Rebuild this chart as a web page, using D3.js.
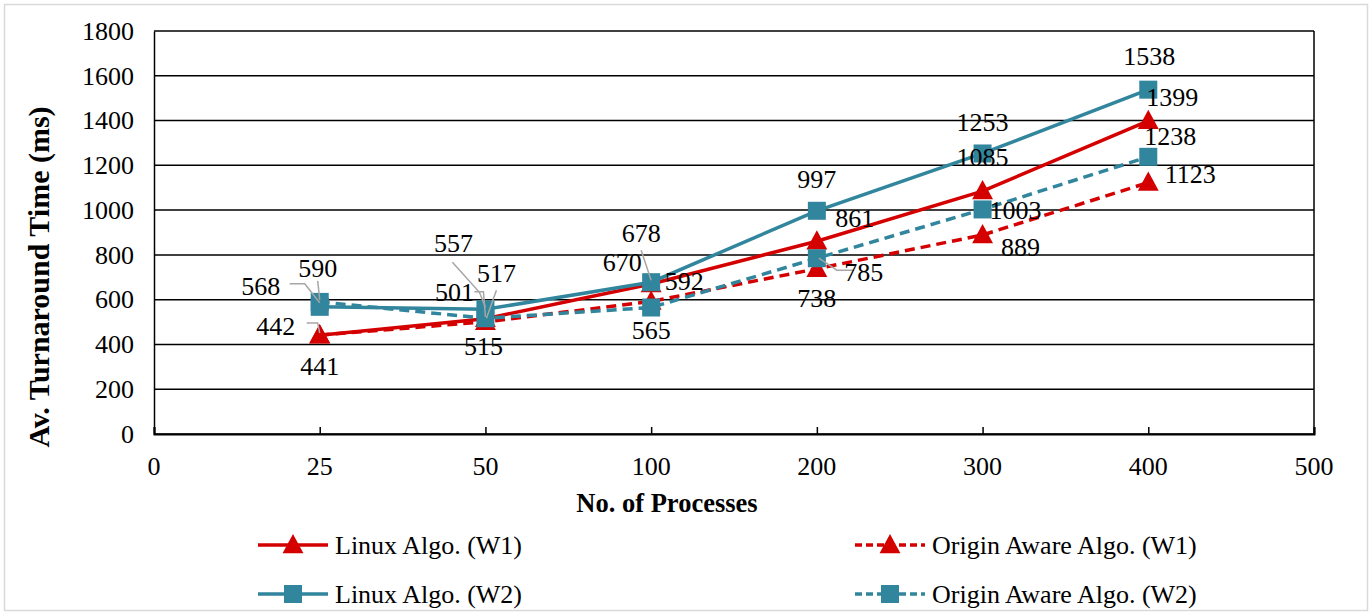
<!DOCTYPE html>
<html><head><meta charset="utf-8">
<script src="https://cdn.jsdelivr.net/npm/d3@7"></script>
<style>
html,body{margin:0;padding:0;background:#fff;}
svg{display:block;}
svg text{font-family:"Liberation Serif","Times New Roman",serif !important;}
</style></head>
<body><svg id="chart" width="1371" height="615"></svg>
<script>
// ---- data ----
const categories = ["0","25","50","100","200","300","400","500"];
const pointCategories = ["25","50","100","200","300","400"];
const yTicks = [0,200,400,600,800,1000,1200,1400,1600,1800];
const seriesNames = ["Linux Algo. (W1)","Origin Aware Algo. (W1)","Linux Algo. (W2)","Origin Aware Algo. (W2)"];
const linuxW1  = [441, 515, 670, 861, 1085, 1399];
const originW1 = [442, 501, 592, 738, 889, 1123];
const linuxW2  = [568, 557, 678, 997, 1253, 1538];
const originW2 = [590, 517, 565, 785, 1003, 1238];

// ---- styling / layout (not data) ----
const RED = "#D40000", TEAL = "#31859C";
const styles = [
  {color:RED,  dash:null,  marker:"triangle"},
  {color:RED,  dash:"10,6", marker:"triangle"},
  {color:TEAL, dash:null,  marker:"square"},
  {color:TEAL, dash:"10,6", marker:"square"}
];
// label offsets [dx,dy] relative to point
const labelOffsets = [
  [[0,31],[-2,28],[-29,-21],[38,-23],[0,-34],[24,-23]],
  [[-44,-9],[-31,-29],[33,-20],[0,30],[38,13],[42,-8]],
  [[-59,-20],[-32,-66],[-10,-49],[0,-31],[0,-31],[1,-33]],
  [[-2,-33],[11,-45],[0,23],[47,14],[33,1],[22,-20]]
];
// leader lines: polyline offsets relative to point
const leaders = [
  [null,null,null,null,null,null],
  [[[-13,-12],[-2,-12],[0,-2]],[[-11,-30],[-2,-30],[0,-5]],null,null,null,null],
  [[[-30,-23],[-15,-23],[0,-4]],[[-33,-47],[-6,-17],[0,-2]],[[-10,-32],[0,-2]],null,null,null],
  [[[-2,-21],[0,-2]],[[11,-28],[1,0]],null,[[2,0],[20,12],[37,12]],null,null]
];

const seriesValues = [linuxW1, originW1, linuxW2, originW2];

const svg = d3.select("#chart");
const L = 154, R = 1314, T = 31, B = 434;
const FS = 26;

// outer border
svg.append("rect").attr("x",4.5).attr("y",4.5).attr("width",1363).attr("height",606)
  .attr("fill","#fff").attr("stroke","#d9d9d9").attr("stroke-width",1.5);

const x = d3.scalePoint().domain(categories).range([L, R]);
const y = d3.scaleLinear().domain([0,1800]).range([B, T]);

// gridlines
svg.append("g").selectAll("line").data(yTicks).join("line")
  .attr("x1",L).attr("x2",R).attr("y1",d=>y(d)).attr("y2",d=>y(d))
  .attr("stroke","#000").attr("stroke-width",1.5);
// right frame
svg.append("line").attr("x1",R).attr("x2",R).attr("y1",T).attr("y2",B).attr("stroke","#000").attr("stroke-width",1.5);

// y axis
const yAxis = svg.append("g").attr("transform",`translate(${L},0)`)
  .call(d3.axisLeft(y).tickValues(yTicks).tickFormat(d3.format("d")).tickSize(0).tickPadding(20));
yAxis.select(".domain").attr("stroke","#000").attr("stroke-width",1.5);
yAxis.selectAll("text").attr("font-size",FS).attr("fill","#000");

// x axis
const xAxis = svg.append("g").attr("transform",`translate(0,${B})`)
  .call(d3.axisTop(x).tickSize(7).tickFormat(""));
xAxis.select(".domain").attr("stroke","#000").attr("stroke-width",2);
xAxis.selectAll(".tick line").attr("stroke","#000").attr("stroke-width",1.5);
svg.append("g").selectAll("text").data(categories).join("text")
  .attr("x",d=>x(d)).attr("y",466).attr("text-anchor","middle")
  .attr("dominant-baseline","central").attr("font-size",FS).text(d=>d);

// axis titles
svg.append("text").attr("transform","translate(38,277) rotate(-90)")
  .attr("text-anchor","middle").attr("dominant-baseline","central")
  .attr("font-size",30).attr("font-weight","bold").text("Av. Turnaround Time (ms)");
svg.append("text").attr("x",667).attr("y",503).attr("text-anchor","middle")
  .attr("dominant-baseline","central").attr("font-size",26.5).attr("font-weight","bold")
  .text("No. of Processes");

const line = d3.line().x(d=>x(d.c)).y(d=>y(d.v));

function drawMarker(g, type, color, cx, cy){
  if(type==="triangle"){
    const s = 11;
    g.append("path").attr("d",`M${cx},${cy-s} L${cx+s*0.95},${cy+s*0.75} L${cx-s*0.95},${cy+s*0.75} Z`)
      .attr("fill",color);
  } else {
    const s = 9;
    g.append("rect").attr("x",cx-s).attr("y",cy-s).attr("width",2*s).attr("height",2*s).attr("fill",color);
  }
}

const plot = svg.append("g");
seriesValues.forEach((vals,i)=>{
  const st = styles[i];
  const pts = vals.map((v,j)=>({c:pointCategories[j], v}));
  const g = plot.append("g");
  g.append("path").datum(pts).attr("d",line).attr("fill","none")
    .attr("stroke",st.color).attr("stroke-width",3.5).attr("stroke-dasharray",st.dash);
  pts.forEach(p=>drawMarker(g, st.marker, st.color, x(p.c), y(p.v)));
});

// labels and leaders
const lab = svg.append("g");
seriesValues.forEach((vals,i)=>{
  vals.forEach((v,j)=>{
    const px = x(pointCategories[j]), py = y(v);
    const ld = leaders[i][j];
    if(ld){
      lab.append("polyline").attr("points", ld.map(o=>`${px+o[0]},${py+o[1]}`).join(" "))
        .attr("fill","none").attr("stroke","#a6a6a6").attr("stroke-width",1.5);
    }
    const o = labelOffsets[i][j];
    lab.append("text").attr("x",px+o[0]).attr("y",py+o[1])
      .attr("text-anchor","middle").attr("dominant-baseline","central")
      .attr("font-size",FS).attr("fill","#000").text(v);
  });
});

// legend
const legendPos = [[258,545],[855,545],[258,594],[855,594]];
seriesNames.forEach((name,i)=>{
  const st = styles[i];
  const [lx,ly] = legendPos[i];
  const g = svg.append("g");
  g.append("line").attr("x1",lx).attr("x2",lx+70).attr("y1",ly).attr("y2",ly)
    .attr("stroke",st.color).attr("stroke-width",3.5).attr("stroke-dasharray",st.dash?"7,4":null);
  drawMarker(g, st.marker, st.color, lx+35, ly);
  g.append("text").attr("x",lx+77).attr("y",ly).attr("dominant-baseline","central")
    .attr("font-size",FS).text(name);
});
</script></body></html>
